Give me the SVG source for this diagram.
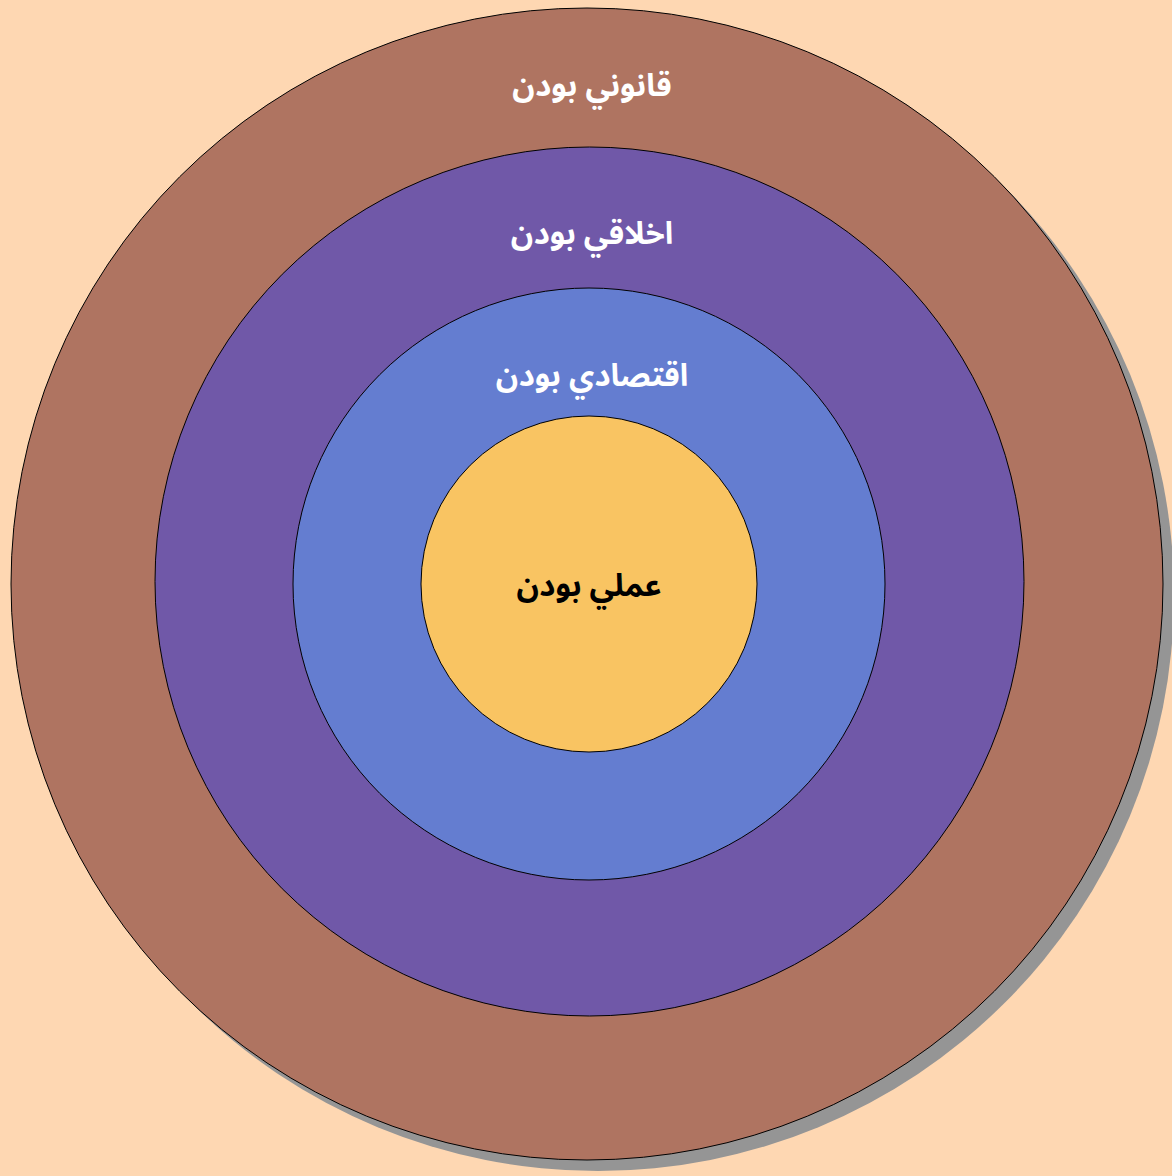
<svg xmlns="http://www.w3.org/2000/svg" width="1172" height="1176" viewBox="0 0 1172 1176">
<style>
.ring{stroke:#000;stroke-width:1}
.lbl{font-family:"Noto Sans Arabic","Noto Sans","DejaVu Sans",sans-serif;font-weight:bold;font-size:31px;text-anchor:middle;dominant-baseline:central}
.w{fill:#fff}
.k{fill:#000}
</style>
<rect width="1172" height="1176" fill="#fed7b2"/>
<g id="connectors"></g>
<g id="legal">
<circle cx="598" cy="595" r="576" fill="#959595"/>
<circle class="ring" cx="587" cy="584" r="576" fill="#af7461"/>
<text class="lbl w" x="592" y="86">قانوني بودن</text>
</g>
<g id="ethical">
<circle class="ring" cx="589.5" cy="581.5" r="434.5" fill="#7058a8"/>
<text class="lbl w" x="592" y="234">اخلاقي بودن</text>
</g>
<g id="economic">
<circle class="ring" cx="589" cy="584" r="296" fill="#647dd0"/>
<text class="lbl w" x="592" y="376">اقتصادي بودن</text>
</g>
<g id="practical">
<circle class="ring" cx="589" cy="584" r="168" fill="#f9c462"/>
<text class="lbl k" x="589" y="586">عملي بودن</text>
</g>
</svg>
